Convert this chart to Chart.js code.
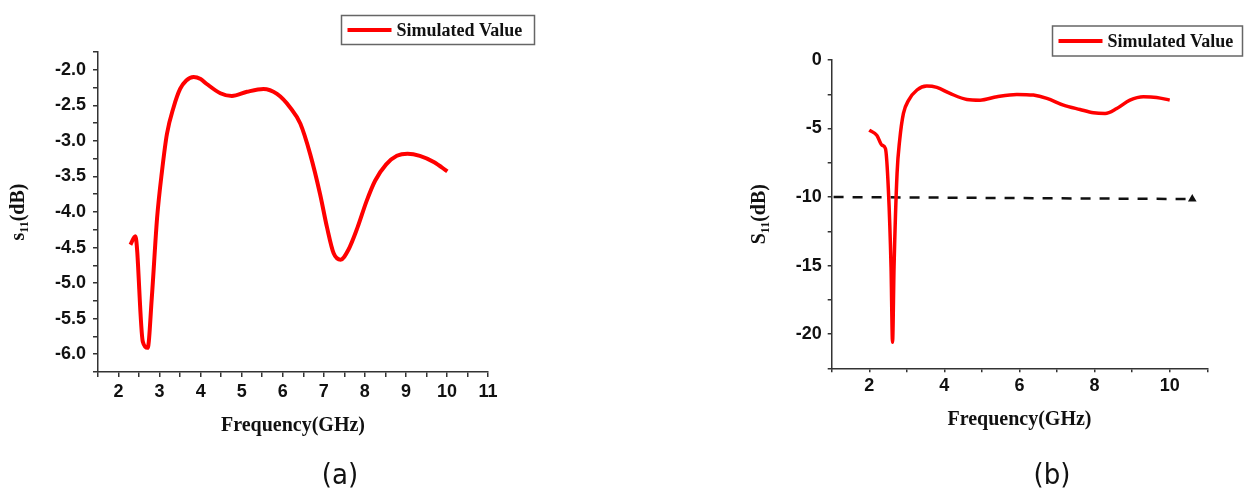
<!DOCTYPE html>
<html>
<head>
<meta charset="utf-8">
<script src="https://cdn.jsdelivr.net/npm/chart.js@4.4.1/dist/chart.umd.min.js"></script>
<style>
  body { margin: 0; background: #fff; width: 1244px; height: 495px; position: relative; overflow: hidden; }
  .wrap { position: absolute; top: 0; height: 495px; }
  #wa { left: 0; width: 560px; }
  #wb { left: 740px; width: 504px; }
  .cap { position: absolute; top: 457px; font: 29px "DejaVu Sans Condensed", "Liberation Sans Narrow", sans-serif; color: #111; transform: translateX(-50%); }
</style>
</head>
<body>
<div class="wrap" id="wa"><canvas id="ca"></canvas></div>
<div class="wrap" id="wb"><canvas id="cb"></canvas></div>
<div class="cap" style="left:340px">(a)</div>
<div class="cap" style="left:1052px">(b)</div>
<script>
// (a) simulated S11
const freqA = [2.29, 2.41, 2.59, 2.71, 2.81, 2.94, 3.06, 3.18, 3.34, 3.50, 3.65, 3.83, 4.00, 4.15, 4.48, 4.76,
  5.13, 5.53, 5.86, 6.18, 6.43, 6.67, 6.91, 7.08, 7.24, 7.41, 7.60, 7.82, 8.04, 8.25, 8.52, 8.78, 9.04, 9.34, 9.69, 10.01];
const s11A = [-4.46, -4.34, -5.82, -5.91, -5.21, -4.08, -3.42, -2.90, -2.53, -2.27, -2.15, -2.10, -2.13, -2.20, -2.33, -2.37,
  -2.31, -2.27, -2.34, -2.53, -2.76, -3.19, -3.75, -4.22, -4.58, -4.67, -4.53, -4.22, -3.85, -3.56, -3.33, -3.21, -3.18, -3.21, -3.30, -3.43];

// (b) simulated S11
const freqB = [2.00, 2.20, 2.34, 2.43, 2.51, 2.58, 2.62, 2.66, 2.74, 2.81, 2.91, 3.05, 3.27, 3.53, 3.80, 4.15, 4.60,
  4.95, 5.40, 5.93, 6.37, 6.73, 7.17, 7.61, 7.97, 8.28, 8.59, 8.94, 9.30, 9.65, 10.0];
const s11B = [-5.12, -5.49, -6.22, -6.46, -9.51, -15.1, -20.6, -15.1, -8.29, -5.85, -3.90, -2.93, -2.19, -1.90, -2.00, -2.44, -2.88,
  -2.93, -2.68, -2.51, -2.56, -2.80, -3.29, -3.61, -3.85, -3.90, -3.54, -2.93, -2.68, -2.73, -2.93];

// -10 dB reference line in (b)
const refFreq = [1.05, 10.6];
const refLevel = [-10, -10.15];

const seriesLabel = 'Simulated Value';
const xTitle = 'Frequency(GHz)';

const toXY = (xs, ys) => xs.map((x, i) => ({x: x, y: ys[i]}));

// rotated y title with subscript "11"
const axisTitleY = {
  id: 'axisTitleY',
  afterDraw(chart, args, o) {
    const ctx = chart.ctx, a = chart.chartArea;
    const big = 'bold 20px "Liberation Serif"', small = 'bold 12px "Liberation Serif"';
    ctx.save();
    ctx.translate(o.x, (a.top + a.bottom) / 2);
    ctx.rotate(-Math.PI / 2);
    ctx.fillStyle = '#111';
    ctx.textBaseline = 'middle';
    ctx.font = big;
    const w1 = ctx.measureText(o.main).width, w3 = ctx.measureText(o.unit).width;
    ctx.font = small;
    const w2 = ctx.measureText(o.sub).width;
    let x = -(w1 + w2 + w3) / 2;
    ctx.font = big; ctx.fillText(o.main, x, 0); x += w1;
    ctx.font = small; ctx.fillText(o.sub, x, 6); x += w2;
    ctx.font = big; ctx.fillText(o.unit, x, 0);
    ctx.restore();
  }
};

// boxed legend like the Origin one
const boxLegend = {
  id: 'boxLegend',
  afterDraw(chart, args, o) {
    const ds = chart.data.datasets[0];
    const ctx = chart.ctx;
    const cy = o.top + o.height / 2;
    ctx.save();
    ctx.strokeStyle = '#666';
    ctx.lineWidth = 1.5;
    ctx.strokeRect(o.left, o.top, o.width, o.height);
    ctx.strokeStyle = ds.borderColor;
    ctx.lineWidth = 4;
    ctx.beginPath();
    ctx.moveTo(o.left + 6, cy);
    ctx.lineTo(o.left + 50, cy);
    ctx.stroke();
    ctx.fillStyle = '#111';
    ctx.font = 'bold 18px "Liberation Serif"';
    ctx.textBaseline = 'middle';
    ctx.fillText(ds.label, o.left + 55, cy + 1);
    ctx.restore();
  }
};

const tickFont = {family: 'Liberation Sans', weight: 'bold', size: 18};
const titleFont = {family: 'Liberation Serif', weight: 'bold', size: 20};
const axisColor = '#333';

function axis(extra) {
  return Object.assign({
    type: 'linear',
    border: {color: axisColor, width: 1.5},
    grid: {drawOnChartArea: false, drawTicks: true, tickLength: 5, color: axisColor, lineWidth: 1.5}
  }, extra);
}

new Chart(document.getElementById('ca'), {
  type: 'line',
  data: {
    datasets: [{
      label: seriesLabel,
      data: toXY(freqA, s11A),
      borderColor: '#ff0000',
      borderWidth: 4,
      pointRadius: 0,
      cubicInterpolationMode: 'monotone'
    }]
  },
  options: {
    responsive: true,
    maintainAspectRatio: false,
    animation: false,
    layout: {padding: {top: 52, right: 72, left: 0, bottom: 0}},
    plugins: {
      legend: {display: false},
      tooltip: {enabled: false},
      axisTitleY: {x: 19, main: 's', sub: '11', unit: '(dB)'},
      boxLegend: {left: 341.5, top: 15.5, width: 193, height: 29}
    },
    scales: {
      x: axis({
        min: 1.5, max: 11,
        afterFit: s => { s.height = 495 - 372; },
        ticks: {stepSize: 0.5, autoSkip: false, maxRotation: 0, padding: 4, color: '#111', font: tickFont,
          callback: v => Math.abs(v - Math.round(v)) < 1e-6 ? String(Math.round(v)) : ''},
        title: {display: true, text: xTitle, color: '#111', font: titleFont, padding: {top: 0, bottom: 57}}
      }),
      y: axis({
        min: -6.25, max: -1.75,
        afterFit: s => { s.width = 98; },
        ticks: {stepSize: 0.25, autoSkip: false, padding: 7, color: '#111', font: tickFont,
          callback: v => Math.abs(v * 2 - Math.round(v * 2)) < 1e-6 ? v.toFixed(1) : ''}
      })
    }
  },
  plugins: [axisTitleY, boxLegend]
});

new Chart(document.getElementById('cb'), {
  type: 'line',
  data: {
    datasets: [{
      label: seriesLabel,
      data: toXY(freqB, s11B),
      borderColor: '#ff0000',
      borderWidth: 3.5,
      pointRadius: 0,
      cubicInterpolationMode: 'monotone'
    }, {
      label: '-10 dB',
      data: toXY(refFreq, refLevel),
      borderColor: '#111',
      borderWidth: 2.5,
      borderDash: [10, 9],
      pointRadius: [0, 2.5],
      pointStyle: 'triangle',
      pointBackgroundColor: '#111',
      pointBorderColor: '#111',
      tension: 0
    }]
  },
  options: {
    responsive: true,
    maintainAspectRatio: false,
    animation: false,
    layout: {padding: {top: 60, right: 36.7, left: 0, bottom: 0}},
    plugins: {
      legend: {display: false},
      tooltip: {enabled: false},
      axisTitleY: {x: 20, main: 'S', sub: '11', unit: '(dB)'},
      boxLegend: {left: 312.5, top: 26, width: 190, height: 30}
    },
    scales: {
      x: axis({
        min: 1, max: 11,
        afterFit: s => { s.height = 495 - 368.3; },
        grid: {drawOnChartArea: false, drawTicks: true, tickLength: 4, color: axisColor, lineWidth: 1.5},
        ticks: {stepSize: 1, autoSkip: false, maxRotation: 0, padding: 3, color: '#111', font: tickFont,
          callback: v => Math.round(v) % 2 === 0 ? String(Math.round(v)) : ''},
        title: {display: true, text: xTitle, color: '#111', font: titleFont, padding: {top: 0, bottom: 63}}
      }),
      y: axis({
        min: -22.5, max: 0,
        afterFit: s => { s.width = 91.7; },
        grid: {drawOnChartArea: false, drawTicks: true, tickLength: 4, color: axisColor, lineWidth: 1.5},
        ticks: {stepSize: 2.5, autoSkip: false, padding: 6, color: '#111', font: tickFont,
          callback: v => Math.abs(v % 5) < 1e-6 ? String(Math.round(v)) : ''}
      })
    }
  },
  plugins: [axisTitleY, boxLegend]
});
</script>
</body>
</html>
